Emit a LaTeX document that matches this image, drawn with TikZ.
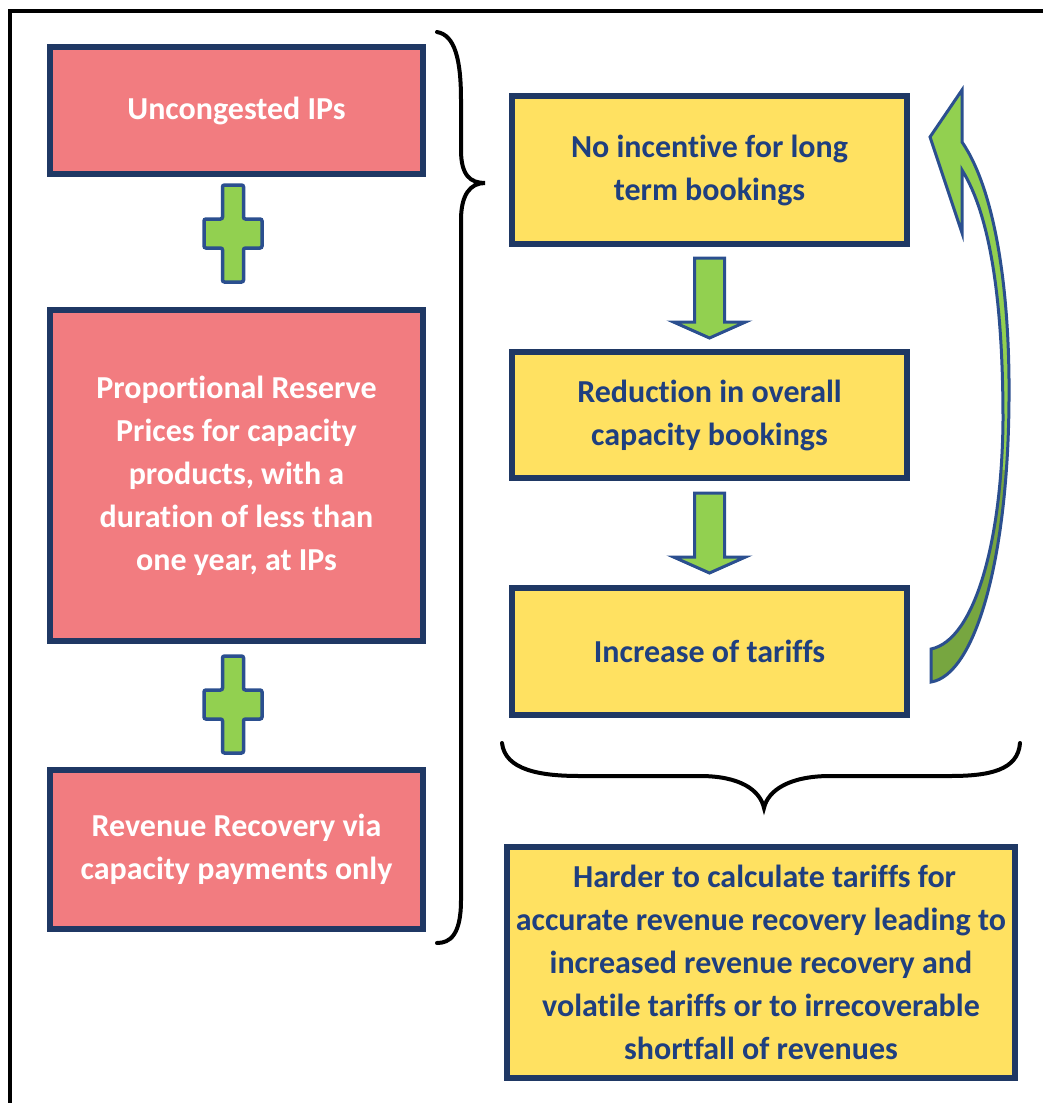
\documentclass[tikz,border=0pt]{standalone}
\usepackage{fontspec}
\setmainfont{Carlito}[Ligatures={NoCommon}]
\usetikzlibrary{calc}
\definecolor{boxline}{HTML}{1F3864}
\definecolor{redfill}{HTML}{F27C80}
\definecolor{yellowfill}{HTML}{FFE161}
\definecolor{bluetext}{HTML}{1F3F7F}
\definecolor{lightgreen}{HTML}{92D050}
\definecolor{darkgreen}{HTML}{77A640}
\definecolor{greenline}{HTML}{2B4F8F}
\tikzset{
  redbox/.style={draw=boxline, line width=5.5pt, fill=redfill, text=white, inner sep=0pt,
    minimum width=373pt, align=center, font=\fontsize{32}{43}\selectfont\bfseries},
  yellowbox/.style={draw=boxline, line width=5.5pt, fill=yellowfill, text=bluetext, inner sep=0pt,
    minimum width=395pt, align=center, font=\fontsize{32}{43}\selectfont\bfseries},
  brace/.style={draw=black, line width=4pt, line cap=round},
  plussign/.pic={
    \draw[greenline, line width=3.5pt, fill=lightgreen, rounded corners=2pt]
      (-10.5,-48.5) -- (10.5,-48.5) -- (10.5,-14.5) -- (29,-14.5) -- (29,14.5) -- (10.5,14.5)
      -- (10.5,48.5) -- (-10.5,48.5) -- (-10.5,14.5) -- (-29,14.5) -- (-29,-14.5) -- (-10.5,-14.5) -- cycle;
  },
  downarrow/.pic={
    \draw[greenline, line width=3pt, fill=lightgreen]
      (-15,-40) -- (15,-40) -- (15,24) -- (36,24) -- (0,40) -- (-36,24) -- (-15,24) -- cycle;
  }
}
\begin{document}
\begin{tikzpicture}[x=1pt, y=-1pt]
  \useasboundingbox (0,0) rectangle (1043,1103);
  \draw[line width=4pt] (10,1110) -- (10,11) -- (1050,11);
  \node[redbox, minimum height=127pt] (r1) at (236.5,110.5) {Uncongested IPs};
  \node[redbox, minimum height=331pt] (r2) at (236.5,475.5)
    {Proportional Reserve\\Prices for capacity\\products, with a\\duration of less than\\one year, at IPs};
  \node[redbox, minimum height=159pt] (r3) at (236.5,849.5)
    {Revenue Recovery via\\capacity payments only};
  \pic at (233,233.5) {plussign};
  \pic at (233,704.5) {plussign};
  \node[yellowbox, minimum height=148pt] (y1) at (709.5,170) {No incentive for long\\term bookings};
  \node[yellowbox, minimum height=126pt] (y2) at (709.5,415) {Reduction in overall\\capacity bookings};
  \node[yellowbox, minimum height=127pt] (y3) at (709.5,651.5) {Increase of tariffs};
  \node[yellowbox, minimum width=508pt, minimum height=231pt] (y4) at (761,962.5)
    {\ Harder to calculate tariffs for\\accurate revenue recovery leading to\\increased revenue recovery and\\volatile tariffs or to irrecoverable\\shortfall of revenues};
  \pic at ($(y1.south)!0.5!(y2.north)$) {downarrow};
  \pic at ($(y2.south)!0.5!(y3.north)$) {downarrow};
  \begin{scope}[greenline, line width=3pt, line join=miter]
    \fill[lightgreen] (962,142) .. controls (995,190) and (1010,290) .. (1009,400)
      .. controls (1008,560) and (975,675) .. (931,682) -- (931,649)
      .. controls (975,640) and (1002,540) .. (1003,420)
      .. controls (1003,300) and (990,215) .. (962,170) -- (962,233) -- (930,137) -- (962,90) -- cycle;
    \begin{scope}
      \clip (900,470) rectangle (1043,700);
      \fill[darkgreen] (962,142) .. controls (995,190) and (1010,290) .. (1009,400)
        .. controls (1008,560) and (975,675) .. (931,682) -- (931,649)
        .. controls (975,640) and (1002,540) .. (1003,420)
        .. controls (1003,300) and (990,215) .. (962,170) -- cycle;
    \end{scope}
    \draw (962,142) .. controls (995,190) and (1010,290) .. (1009,400)
      .. controls (1008,560) and (975,675) .. (931,682) -- (931,649)
      .. controls (975,640) and (1002,540) .. (1003,420)
      .. controls (1003,300) and (990,215) .. (962,170) -- (962,233) -- (930,137) -- (962,90) -- cycle;
  \end{scope}
  \draw[brace] (437,32) .. controls (455,35) and (461,60) .. (461,100) -- (461,150)
    .. controls (461,175) and (470,183) .. (485,183)
    .. controls (470,183) and (461,195) .. (461,220) -- (461,900)
    .. controls (461,935) and (450,943) .. (437,943);
  \draw[brace] (502,743) .. controls (505,770) and (540,776) .. (580,776) -- (700,776)
    .. controls (740,776) and (760,790) .. (764,808)
    .. controls (768,790) and (790,776) .. (830,776) -- (950,776)
    .. controls (990,776) and (1018,770) .. (1020,743);
\end{tikzpicture}
\end{document}
